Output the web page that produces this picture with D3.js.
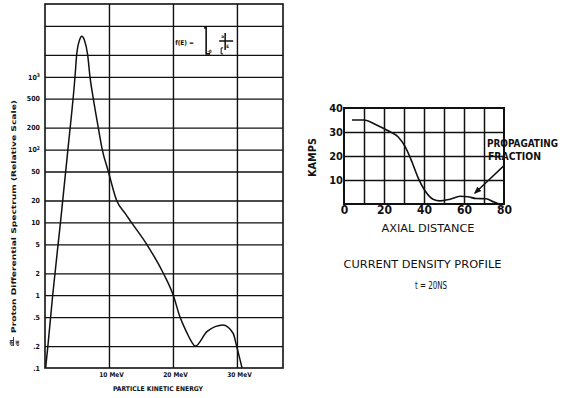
<!DOCTYPE html>
<html>
<head>
<meta charset="utf-8">
<script src="https://cdn.jsdelivr.net/npm/d3@7"></script>
<style>
  body { margin: 0; background: #fff; }
  svg { display: block; }
  text { font-family: "DejaVu Sans Condensed", "Liberation Sans Narrow", "DejaVu Sans", sans-serif; fill: #111; }
</style>
</head>
<body>
<svg id="chart" width="562" height="398" font-weight="bold"></svg>
<script>
// left panel: proton differential spectrum (log scale)
const energy   = [0.1, 0.45, 1.2, 2.42, 3.58, 4.69, 4.95, 5.4, 5.75, 6.15, 6.67, 7.03, 7.55, 8.33, 8.95, 9.9, 11.2, 12.5, 13.5, 15.9, 18.5, 20.05, 21.1, 22.1, 22.9, 23.5, 25.3, 26.6, 27.8, 29.4, 29.95, 30.8];
const spectrum = [0.1, 0.2, 1, 10, 100, 1000, 2000, 3200, 3600, 3200, 2000, 1000, 500, 200, 100, 50, 20, 13.4, 10, 5, 2, 1, 0.5, 0.316, 0.23, 0.2, 0.316, 0.37, 0.39, 0.3, 0.2, 0.1];
const yGridVals = [0.2, 0.5, 1, 2, 5, 10, 20, 50, 100, 200, 500, 1000, 2000, 5000];
const yTickVals = [0.1, 0.2, 0.5, 1, 2, 5, 10, 20, 50, 100, 200, 500, 1000];
const yTickText = [".1", ".2", ".5", "1", "2", "5", "10", "20", "50", "10^2", "200", "500", "10^3"];
const xTickVals = [10, 20, 30];
const xTickText = ["10 MeV", "20 MeV", "30 MeV"];

// right panel: current density profile
const axialDist = [4, 10, 16, 22, 27, 30.5, 34, 37, 40.5, 44.5, 48, 53, 58, 62, 66, 71, 75, 77.5];
const kamps     = [35, 35, 33, 30.5, 28, 24, 17.5, 11, 5.5, 2, 1.3, 2, 3.2, 3, 2.3, 2.2, 0.8, 0];
const rxTicks = [0, 20, 40, 60, 80];
const ryTicks = [10, 20, 30, 40];
const rGridX = [10, 20, 30, 40, 50, 60, 70];
const rGridY = [10, 20, 30];

const svg = d3.select("#chart");
const ink = "#111";

// ---------- left chart ----------
const xL = d3.scaleLinear().domain([0, 37.2]).range([45, 283]);
const yL = d3.scaleLog().domain([0.1, 10000]).range([368, 4]);

// horizontal grid
svg.append("g")
  .attr("transform", `translate(${xL(0)},0)`)
  .call(d3.axisLeft(yL).tickValues(yGridVals).tickSize(-(xL.range()[1] - xL.range()[0])).tickFormat(""))
  .call(g => g.select(".domain").remove())
  .call(g => g.selectAll("line").attr("stroke", ink).attr("stroke-width", 1.3));

// vertical grid
svg.append("g")
  .attr("transform", `translate(0,${yL(0.1)})`)
  .call(d3.axisBottom(xL).tickValues(xTickVals).tickSize(-(yL.range()[0] - yL.range()[1])).tickFormat(""))
  .call(g => g.select(".domain").remove())
  .call(g => g.selectAll("line").attr("stroke", ink).attr("stroke-width", 1.4));

// frame
svg.append("rect")
  .attr("x", xL(0)).attr("y", yL(10000))
  .attr("width", xL(37.2) - xL(0)).attr("height", yL(0.1) - yL(10000))
  .attr("fill", "none").attr("stroke", ink).attr("stroke-width", 1.6);

// y tick labels
svg.append("g")
  .attr("transform", `translate(${xL(0)},0)`)
  .call(d3.axisLeft(yL).tickValues(yTickVals).tickSize(0).tickPadding(5).tickFormat((d, i) => yTickText[i]))
  .call(g => g.select(".domain").remove())
  .call(g => g.selectAll("text").attr("font-size", 7).each(function () {
    const t = d3.select(this);
    const s = t.text();
    if (s.includes("^")) {
      const [base, exp] = s.split("^");
      t.text(base);
      t.append("tspan").attr("dy", "-0.5em").attr("font-size", 5).text(exp);
    }
  }));

// x tick labels
svg.append("g")
  .attr("transform", `translate(0,${yL(0.1)})`)
  .call(d3.axisBottom(xL).tickValues(xTickVals).tickSize(0).tickPadding(4).tickFormat((d, i) => xTickText[i]))
  .call(g => g.select(".domain").remove())
  .call(g => g.selectAll("text").attr("font-size", 6.5).attr("dx", 2));

svg.append("text")
  .attr("x", 158).attr("y", 391)
  .attr("text-anchor", "middle")
  .attr("font-size", 6.5)
  .attr("textLength", 90).attr("lengthAdjust", "spacingAndGlyphs")
  .text("PARTICLE KINETIC ENERGY");

// y title
const yt = svg.append("g").attr("transform", "translate(16,333) rotate(-90)");
yt.append("text")
  .attr("x", 0).attr("y", 0)
  .attr("font-size", 6.5)
  .attr("textLength", 233).attr("lengthAdjust", "spacingAndGlyphs")
  .text("Proton Differential Spectrum (Relative Scale)");
yt.append("text").attr("x", -13).attr("y", -3.5).attr("font-size", 4.5).text("dN");
yt.append("line").attr("x1", -13).attr("x2", -4).attr("y1", -2.5).attr("y2", -2.5).attr("stroke", ink).attr("stroke-width", 0.8);
yt.append("text").attr("x", -13).attr("y", 2.5).attr("font-size", 4.5).text("dE");

// inset formula
const fx = xL(20.5), fy = yL(3000);
svg.append("text").attr("x", fx - 1).attr("y", fy + 2.5).attr("font-size", 6.5).text("f(E) =");
svg.append("path")
  .attr("d", `M${fx + 28},${yL(5000) + 2} H${fx + 30} V${yL(2000) - 1} H${fx + 34}`)
  .attr("fill", "none").attr("stroke", ink).attr("stroke-width", 1.6);
svg.append("text").attr("x", fx + 31).attr("y", yL(2000) - 2).attr("font-size", 4.5).text("-0");
svg.append("path")
  .attr("d", `M${fx + 47},${yL(2000) - 7} H${fx + 45} V${yL(2000) - 1} H${fx + 47}`)
  .attr("fill", "none").attr("stroke", ink).attr("stroke-width", 1);
svg.append("path")
  .attr("d", `M${fx + 43},${fy - 1} H${fx + 57} M${fx + 49},${fy - 9} V${fy + 8}`)
  .attr("fill", "none").attr("stroke", ink).attr("stroke-width", 1.5);
svg.append("text").attr("x", fx + 45).attr("y", fy - 4).attr("font-size", 4.5).text("a");
svg.append("text").attr("x", fx + 50).attr("y", fy + 6).attr("font-size", 4.5).text("E");

// spectrum curve
const lineL = d3.line().x(d => xL(d[0])).y(d => yL(d[1])).curve(d3.curveMonotoneX);
svg.append("path")
  .datum(d3.zip(energy, spectrum))
  .attr("d", lineL)
  .attr("fill", "none").attr("stroke", ink).attr("stroke-width", 1.5);

// ---------- right chart ----------
const xR = d3.scaleLinear().domain([0, 80]).range([344, 504]);
const yR = d3.scaleLinear().domain([0, 40]).range([204, 108]);

svg.append("g")
  .attr("transform", `translate(${xR(0)},0)`)
  .call(d3.axisLeft(yR).tickValues(rGridY).tickSize(-(xR(80) - xR(0))).tickFormat(""))
  .call(g => g.select(".domain").remove())
  .call(g => g.selectAll("line").attr("stroke", ink).attr("stroke-width", 1.5));

svg.append("g")
  .attr("transform", `translate(0,${yR(0)})`)
  .call(d3.axisBottom(xR).tickValues(rGridX).tickSize(-(yR(0) - yR(40))).tickFormat(""))
  .call(g => g.select(".domain").remove())
  .call(g => g.selectAll("line").attr("stroke", ink).attr("stroke-width", 1.5));

svg.append("rect")
  .attr("x", xR(0)).attr("y", yR(40))
  .attr("width", xR(80) - xR(0)).attr("height", yR(0) - yR(40))
  .attr("fill", "none").attr("stroke", ink).attr("stroke-width", 2);

svg.append("g")
  .attr("transform", `translate(${xR(0)},0)`)
  .call(d3.axisLeft(yR).tickValues(ryTicks).tickSize(0).tickPadding(1))
  .call(g => g.select(".domain").remove())
  .call(g => g.selectAll("text").attr("font-size", 11));

svg.append("g")
  .attr("transform", `translate(0,${yR(0)})`)
  .call(d3.axisBottom(xR).tickValues(rxTicks).tickSize(0).tickPadding(1))
  .call(g => g.select(".domain").remove())
  .call(g => g.selectAll("text").attr("font-size", 12));

svg.append("text")
  .attr("transform", `translate(316,157.5) rotate(-90)`)
  .attr("text-anchor", "middle").attr("font-size", 10)
  .attr("textLength", 39).attr("lengthAdjust", "spacingAndGlyphs")
  .text("KAMPS");

svg.append("text")
  .attr("x", 428).attr("y", 232).attr("text-anchor", "middle").attr("font-size", 11)
  .attr("font-weight", "normal")
  .attr("textLength", 93).attr("lengthAdjust", "spacingAndGlyphs")
  .text("AXIAL DISTANCE");
svg.append("text")
  .attr("x", 422.5).attr("y", 268).attr("text-anchor", "middle").attr("font-size", 11)
  .attr("font-weight", "normal")
  .attr("textLength", 158).attr("lengthAdjust", "spacingAndGlyphs")
  .text("CURRENT DENSITY PROFILE");
svg.append("text")
  .attr("x", 431).attr("y", 289).attr("text-anchor", "middle").attr("font-size", 11)
  .attr("font-weight", "normal")
  .attr("textLength", 32).attr("lengthAdjust", "spacingAndGlyphs")
  .text("t = 20NS");

svg.append("text")
  .attr("x", 487).attr("y", 147).attr("font-size", 10)
  .attr("textLength", 71).attr("lengthAdjust", "spacingAndGlyphs")
  .text("PROPAGATING");
svg.append("text")
  .attr("x", 488).attr("y", 159.5).attr("font-size", 10.5)
  .attr("textLength", 53).attr("lengthAdjust", "spacingAndGlyphs")
  .text("FRACTION");

// arrow
svg.append("defs").append("marker")
  .attr("id", "arrow").attr("viewBox", "0 0 10 10")
  .attr("refX", 8).attr("refY", 5)
  .attr("markerWidth", 5).attr("markerHeight", 5)
  .attr("orient", "auto")
  .append("path").attr("d", "M0,1 L10,5 L0,9 z").attr("fill", ink);
svg.append("line")
  .attr("x1", xR(80)).attr("y1", yR(16))
  .attr("x2", xR(65.5)).attr("y2", yR(4.6))
  .attr("stroke", ink).attr("stroke-width", 1.5)
  .attr("marker-end", "url(#arrow)");

const lineR = d3.line().x(d => xR(d[0])).y(d => yR(d[1])).curve(d3.curveMonotoneX);
svg.append("path")
  .datum(d3.zip(axialDist, kamps))
  .attr("d", lineR)
  .attr("fill", "none").attr("stroke", ink).attr("stroke-width", 1.6);
</script>
</body>
</html>
